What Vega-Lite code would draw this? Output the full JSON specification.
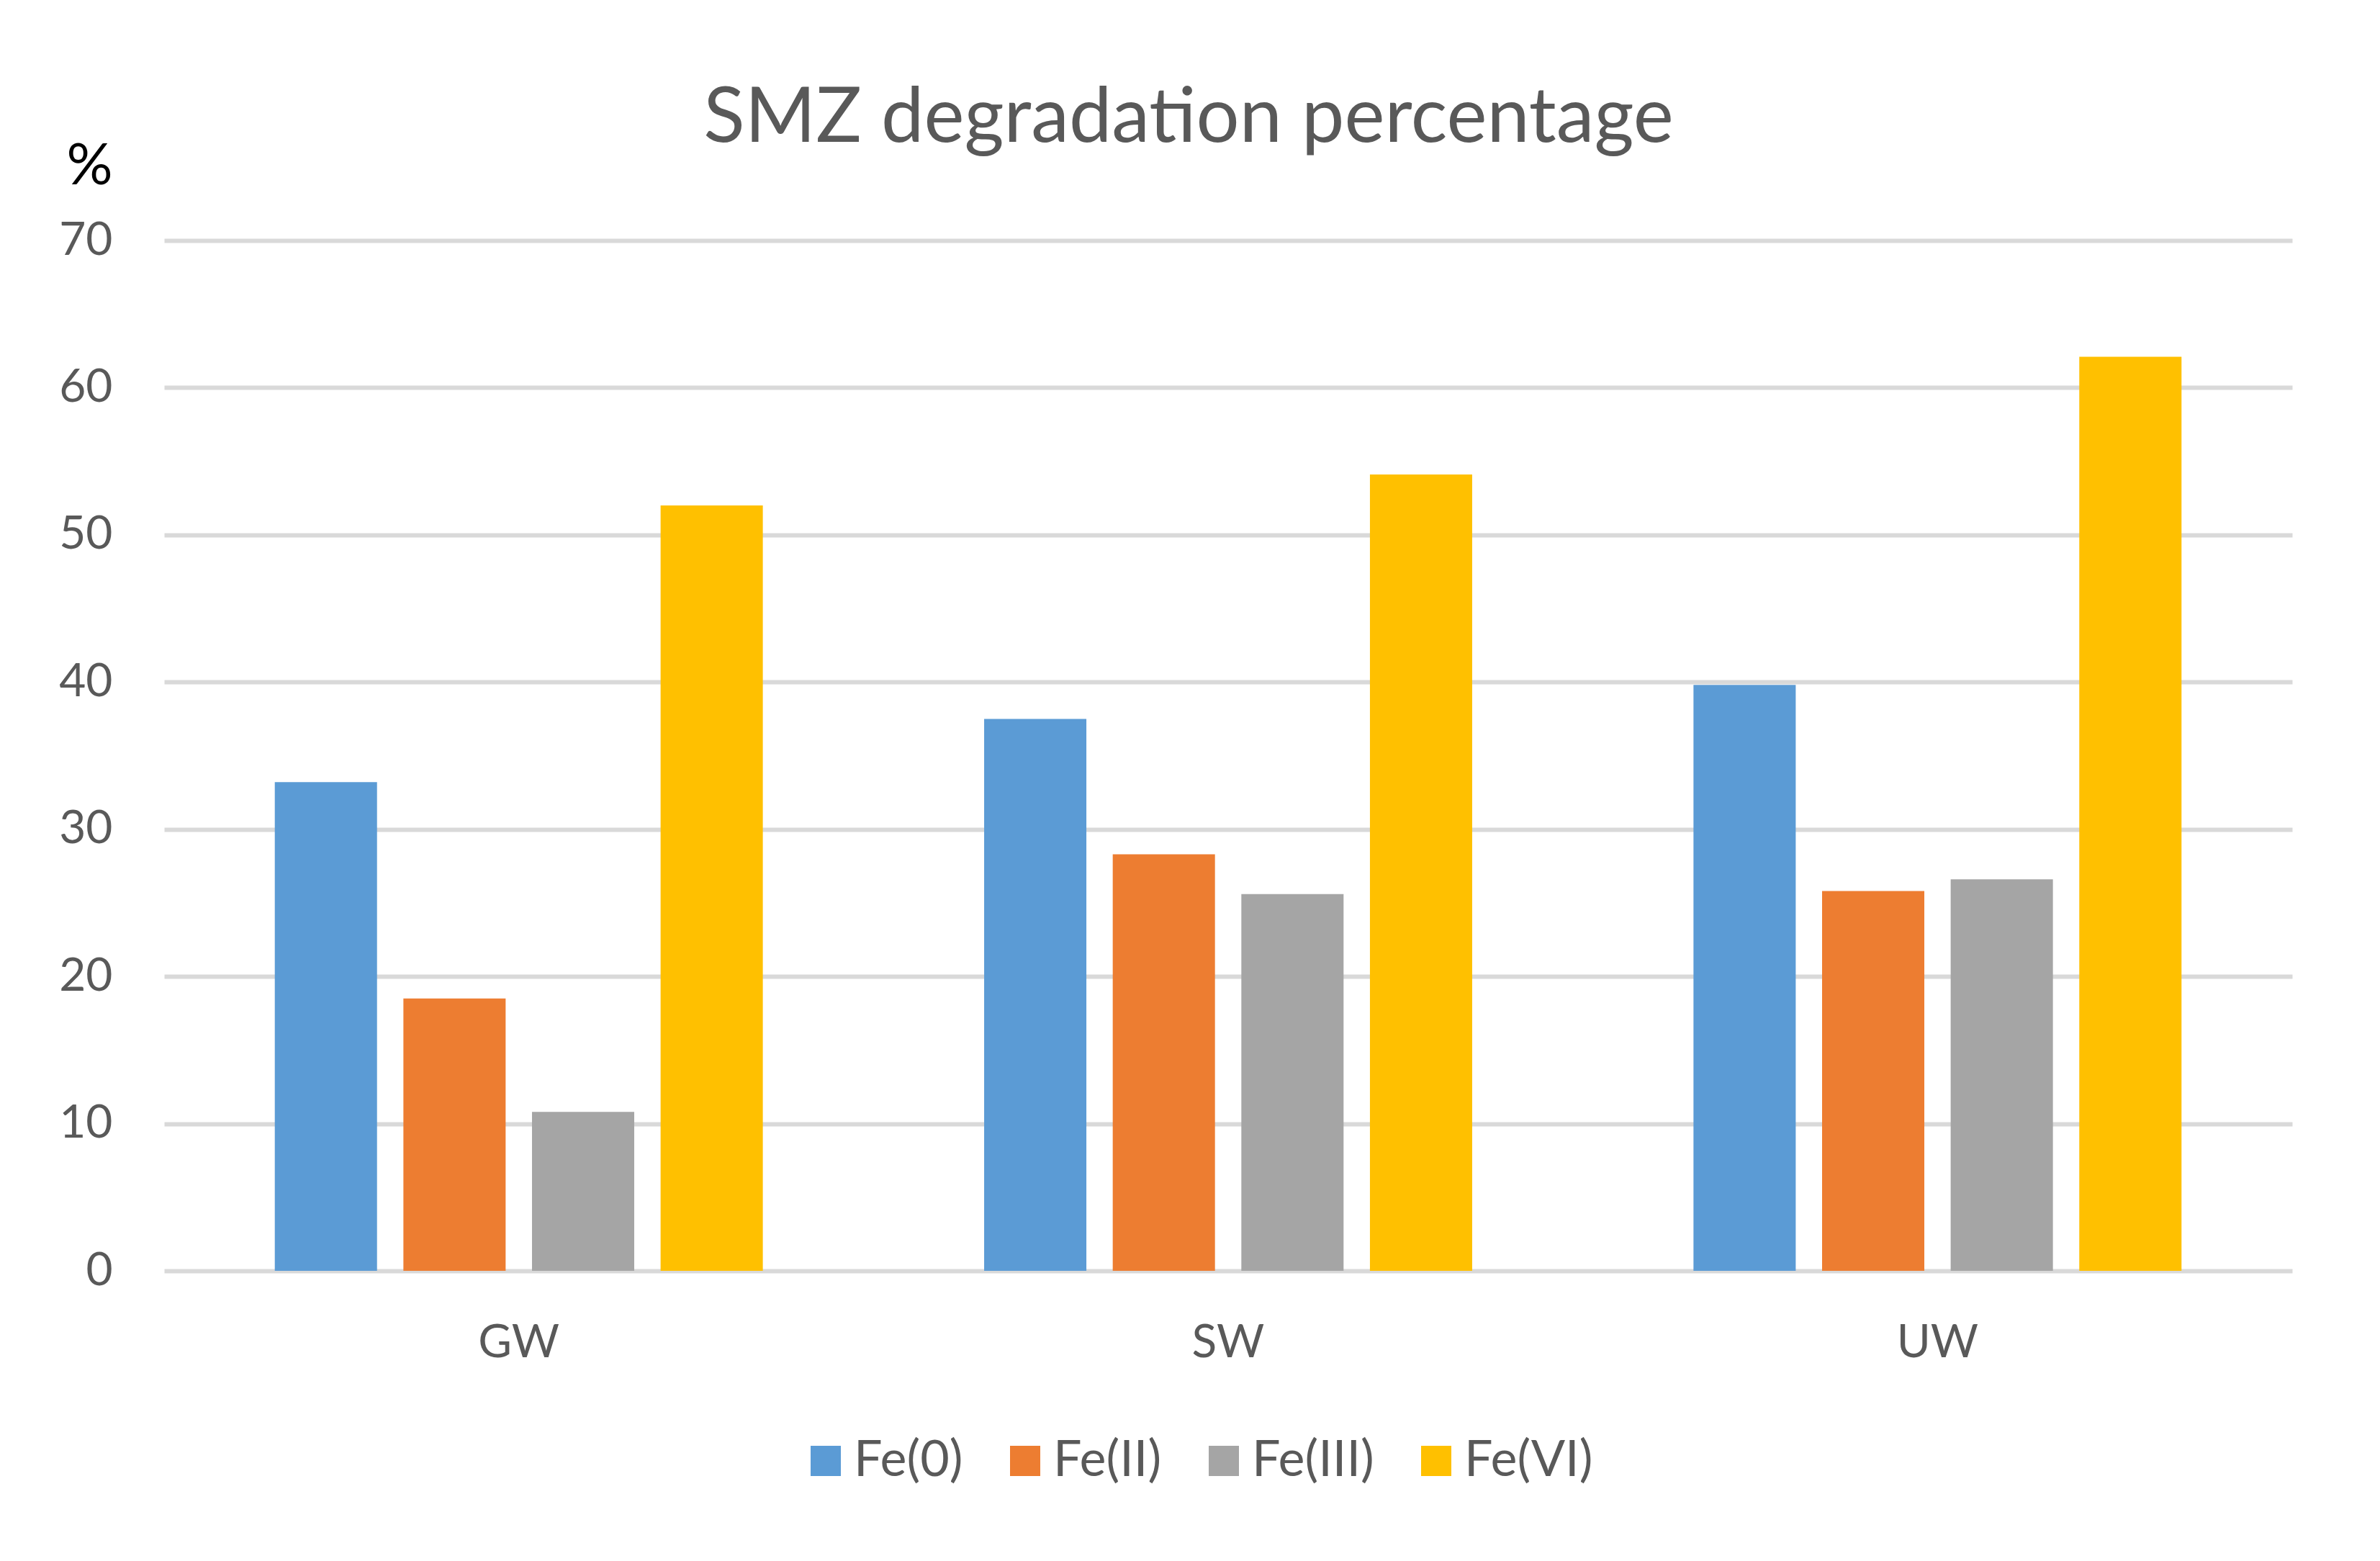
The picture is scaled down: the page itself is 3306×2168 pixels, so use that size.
{
  "$schema": "https://vega.github.io/schema/vega-lite/v6.json",
  "width": 2956,
  "height": 1431,
  "autosize": {"type": "none"},
  "padding": {"left": 228, "top": 334, "right": 122, "bottom": 403},
  "background": "white",
  "config": {"view": {"stroke": null}},
  "title": {
    "text": "SMZ degradation percentage",
    "font": "Lato",
    "fontSize": 106,
    "fontWeight": "normal",
    "color": "#595959",
    "anchor": "middle",
    "frame": "group",
    "dx": -55,
    "dy": 141,
    "offset": 113
  },
  "data": {
    "values": [
      {"site": "GW", "species": "Fe(0)", "value": 33.2},
      {"site": "GW", "species": "Fe(II)", "value": 18.5},
      {"site": "GW", "species": "Fe(III)", "value": 10.8},
      {"site": "GW", "species": "Fe(VI)", "value": 52.0},
      {"site": "SW", "species": "Fe(0)", "value": 37.5},
      {"site": "SW", "species": "Fe(II)", "value": 28.3},
      {"site": "SW", "species": "Fe(III)", "value": 25.6},
      {"site": "SW", "species": "Fe(VI)", "value": 54.1},
      {"site": "UW", "species": "Fe(0)", "value": 39.8},
      {"site": "UW", "species": "Fe(II)", "value": 25.8},
      {"site": "UW", "species": "Fe(III)", "value": 26.6},
      {"site": "UW", "species": "Fe(VI)", "value": 62.1}
    ]
  },
  "mark": {"type": "bar"},
  "encoding": {
    "x": {
      "field": "site",
      "type": "nominal",
      "sort": ["GW", "SW", "UW"],
      "scale": {"paddingInner": 0.312, "paddingOuter": 0.156},
      "axis": {
        "title": null,
        "labelAngle": 0,
        "labelFont": "Lato",
        "labelFontSize": 64,
        "labelColor": "#595959",
        "labelPadding": 68,
        "labelBaseline": "top",
        "ticks": false,
        "tickSize": 0,
        "domain": false,
        "grid": false
      }
    },
    "xOffset": {
      "field": "species",
      "type": "nominal",
      "sort": ["Fe(0)", "Fe(II)", "Fe(III)", "Fe(VI)"],
      "scale": {"paddingInner": 0.205, "paddingOuter": 0}
    },
    "y": {
      "field": "value",
      "type": "quantitative",
      "scale": {"domain": [0, 70], "nice": false},
      "axis": {
        "values": [0, 10, 20, 30, 40, 50, 60, 70],
        "title": "%",
        "titleAngle": 0,
        "titleAlign": "right",
        "titleBaseline": "alphabetic",
        "titleX": -72,
        "titleY": -79,
        "titleFont": "Lato",
        "titleFontSize": 80,
        "titleFontWeight": "normal",
        "titleColor": "black",
        "labelFont": "Lato",
        "labelFontSize": 64,
        "labelColor": "#595959",
        "labelPadding": 72,
        "labelBaseline": "middle",
        "ticks": false,
        "tickSize": 0,
        "domain": false,
        "gridColor": "#d9d9d9",
        "gridWidth": 6
      }
    },
    "color": {
      "field": "species",
      "type": "nominal",
      "sort": ["Fe(0)", "Fe(II)", "Fe(III)", "Fe(VI)"],
      "scale": {
        "domain": ["Fe(0)", "Fe(II)", "Fe(III)", "Fe(VI)"],
        "range": ["#5B9BD5", "#ED7D31", "#A5A5A5", "#FFC000"]
      },
      "legend": {
        "title": null,
        "orient": "none",
        "legendX": 884,
        "legendY": 1660,
        "direction": "horizontal",
        "symbolType": "square",
        "symbolSize": 1764,
        "symbolStrokeWidth": 0,
        "labelFont": "Lato",
        "labelFontSize": 70,
        "labelColor": "#595959",
        "labelOffset": 4,
        "labelLimit": 600,
        "columnPadding": 51,
        "padding": 0
      }
    }
  }
}
